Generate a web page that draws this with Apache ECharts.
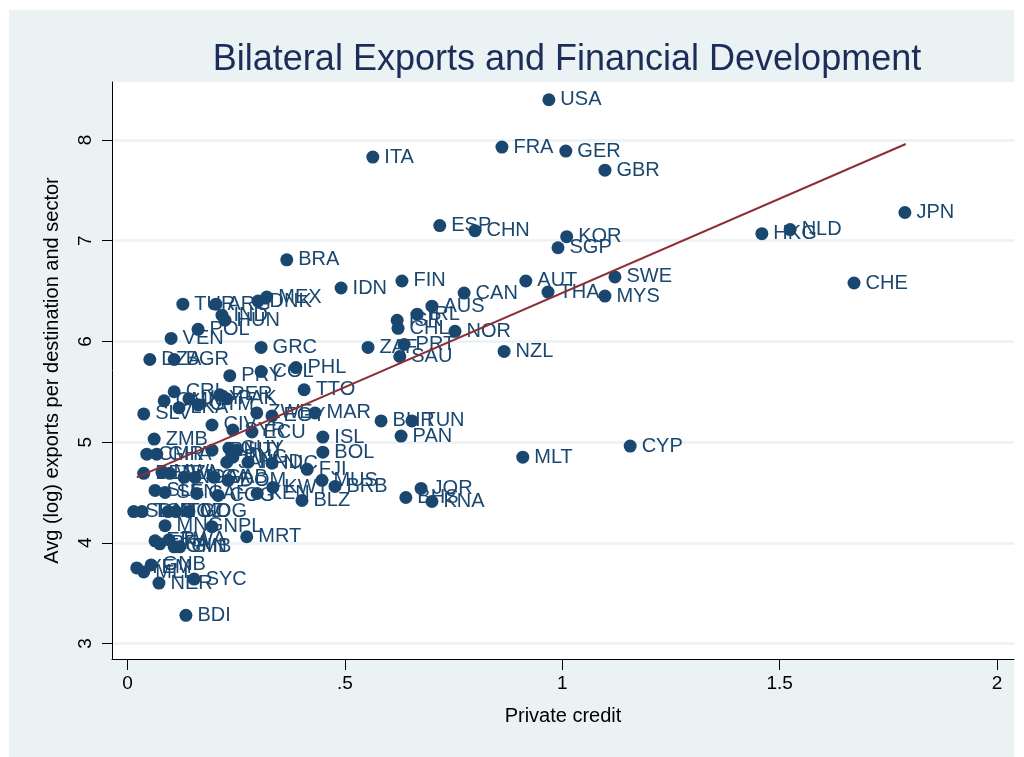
<!DOCTYPE html>
<html>
<head>
<meta charset="utf-8">
<script src="https://cdn.jsdelivr.net/npm/echarts@6/dist/echarts.min.js"></script>
<style>
html,body{margin:0;padding:0;background:#fff;}
#c{width:1024px;height:757px;}
</style>
</head>
<body>
<div id="c"></div>
<script>
// ---- data ----
const countries = ["USA","ITA","FRA","GER","GBR","JPN","ESP","CHN","KOR","SGP","HKG","NLD","CHE","BRA","FIN","IDN","AUT","CAN","SWE","THA","MYS","AUS","IRL","ISR","CHL","NOR","ZAF","PRT","SAU","NZL","MLT","CYP","JOR","KNA","BHS","BHR","TUN","PAN","ISL","BOL","MAR","TTO","FJI","MUS","BRB","KWT","BLZ","TUR","ARG","DNK","MEX","IND","HUN","POL","VEN","GRC","DZA","BGR","PRY","COL","PHL","CRI","OMN","URY","PER","PAK","SLV","LKA","GTM","ZWE","EGY","CIV","SYR","ECU","ZMB","CMR","GHA","IRN","GUY","HTI","PNG","JAM","HND","NIC","DOM","BEN","MWI","TZA","NGA","UGA","GAB","SLE","SEN","CAF","COG","KEN","SDN","TCD","MOZ","TGO","MDG","MNG","NPL","MRT","ETH","BFA","RWA","GMB","GIN","YEM","MLI","GNB","NER","SYC","BDI"];
const privateCredit = [0.969,0.564,0.861,1.008,1.098,1.788,0.718,0.799,1.010,0.990,1.459,1.524,1.671,0.366,0.631,0.491,0.916,0.774,1.121,0.967,1.098,0.700,0.666,0.620,0.622,0.753,0.553,0.636,0.626,0.866,0.909,1.156,0.675,0.700,0.640,0.583,0.654,0.629,0.449,0.449,0.431,0.406,0.413,0.447,0.477,0.334,0.401,0.127,0.203,0.300,0.320,0.217,0.224,0.162,0.100,0.307,0.051,0.107,0.235,0.307,0.387,0.107,0.084,0.141,0.212,0.228,0.037,0.118,0.162,0.297,0.332,0.194,0.242,0.286,0.061,0.044,0.067,0.194,0.233,0.251,0.242,0.228,0.277,0.332,0.231,0.037,0.079,0.097,0.130,0.155,0.199,0.063,0.086,0.159,0.208,0.298,0.014,0.033,0.093,0.111,0.141,0.086,0.194,0.274,0.063,0.074,0.095,0.107,0.120,0.021,0.037,0.054,0.072,0.153,0.134];
const avgExports = [8.40,7.83,7.93,7.89,7.70,7.28,7.15,7.10,7.04,6.93,7.07,7.11,6.58,6.81,6.60,6.53,6.60,6.48,6.64,6.49,6.45,6.35,6.27,6.21,6.13,6.10,5.94,5.97,5.85,5.90,4.85,4.96,4.54,4.41,4.45,5.21,5.21,5.06,5.05,4.90,5.29,5.52,4.73,4.62,4.56,4.55,4.42,6.37,6.37,6.40,6.44,6.26,6.21,6.12,6.03,5.94,5.82,5.82,5.66,5.70,5.74,5.50,5.41,5.43,5.47,5.43,5.28,5.34,5.37,5.29,5.26,5.17,5.12,5.10,5.03,4.88,4.88,4.92,4.94,4.92,4.85,4.80,4.80,4.79,4.62,4.69,4.70,4.69,4.65,4.65,4.65,4.52,4.50,4.49,4.47,4.49,4.31,4.31,4.31,4.31,4.31,4.17,4.16,4.06,4.02,3.99,4.03,3.96,3.96,3.75,3.71,3.78,3.60,3.64,3.28];
const fitLine = [[0.021,4.65],[1.790,7.96]];
const xTicks = [0,0.5,1,1.5,2];
const xTickLabels = ["0",".5","1","1.5","2"];
const yTicks = [3,4,5,6,7,8];
const yTickLabels = ["3","4","5","6","7","8"];

// ---- chart ----
const FONT = "'Liberation Sans', Arial, sans-serif";
const NAVY = '#1A476F';
const points = countries.map((c,i)=>[privateCredit[i], avgExports[i], c]);
const chart = echarts.init(document.getElementById('c'), null, {renderer:'canvas'});
chart.setOption({
  animation:false,
  backgroundColor:'#fff',
  textStyle:{fontFamily:FONT},
  graphic:[{type:'rect', z:-10, silent:true, shape:{x:9,y:10,width:1005,height:747}, style:{fill:'#EAF2F3'}}],
  title:{text:'Bilateral Exports and Financial Development', left:562, top:37, textAlign:'center',
    textStyle:{fontFamily:FONT, fontSize:36, fontWeight:'normal', color:'#1c2d5a'}},
  grid:{left:112, right:10, top:82, bottom:98, show:true, backgroundColor:'#ffffff', borderWidth:0},
  xAxis:{type:'value', min:-0.036, max:2.039,
    name:'Private credit', nameLocation:'middle', nameGap:47,
    nameTextStyle:{fontFamily:FONT, fontSize:20, color:'#000'},
    axisLine:{show:true, onZero:false, lineStyle:{color:'#000', width:1}},
    axisTick:{show:true, customValues:xTicks, length:11, lineStyle:{color:'#000'}},
    axisLabel:{customValues:xTicks, margin:15, fontSize:19, color:'#000', fontFamily:FONT,
      formatter:v=>{const i=xTicks.findIndex(t=>Math.abs(t-v)<1e-9);return i>=0?xTickLabels[i]:'';}},
    splitLine:{show:false}},
  yAxis:{type:'value', min:2.846, max:8.576,
    name:'Avg (log) exports per destination and sector', nameLocation:'middle', nameGap:50, nameRotate:90,
    nameTextStyle:{fontFamily:FONT, fontSize:20, color:'#000'},
    axisLine:{show:true, onZero:false, lineStyle:{color:'#000', width:1}},
    axisTick:{show:true, customValues:yTicks, length:10, lineStyle:{color:'#000'}},
    axisLabel:{customValues:yTicks, rotate:90, margin:17, fontSize:19, color:'#000', fontFamily:FONT,
      formatter:v=>{const i=yTicks.findIndex(t=>Math.abs(t-v)<1e-9);return i>=0?yTickLabels[i]:'';}},
    splitLine:{show:false}},
  series:[
    {type:'line', data:[], z:0, zlevel:0, silent:true,
      markLine:{z:0, silent:true, symbol:['none','none'], label:{show:false}, animation:false,
        lineStyle:{color:'#EAF2F3', width:2.5, type:'solid'},
        data:yTicks.map(v=>({yAxis:v}))}},
    {type:'scatter', data:points, z:3, symbol:'circle', symbolSize:13,
      itemStyle:{color:NAVY, opacity:1},
      label:{show:true, position:'right', distance:5, formatter:p=>p.data[2],
        fontFamily:FONT, fontSize:20, color:NAVY}},
    {type:'line', data:fitLine, z:5, symbol:'none', silent:true,
      lineStyle:{color:'#8E2F36', width:2}}
  ]
});
</script>
</body>
</html>
